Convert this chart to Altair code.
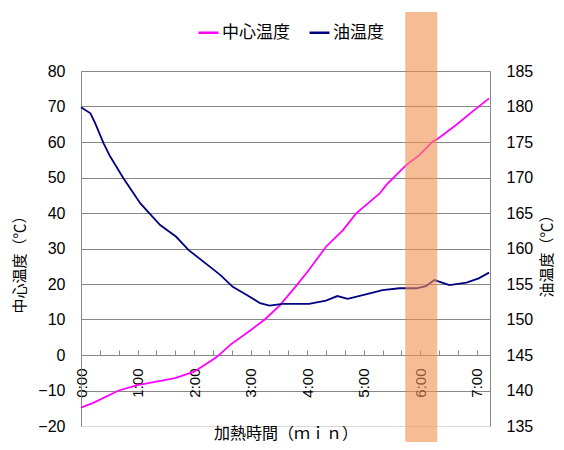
import altair as alt
import pandas as pd

# 中心温度 (left axis, °C) — time in seconds
center_t = [0, 13, 40, 60, 100, 120, 134, 144, 159, 180, 195, 211, 229, 242, 260, 278, 292, 317, 324, 345, 359, 373, 379, 398, 415, 433]
center_v = [-14.8, -13.5, -10.0, -8.5, -6.5, -4.7, -2.3, -0.6, 3.0, 7.0, 10.0, 14.0, 19.7, 24.0, 30.5, 35.2, 39.9, 45.5, 47.9, 53.5, 56.3, 60.1, 61.0, 64.8, 68.5, 72.3]

# 油温度 (right axis, °C)
oil_t = [0, 10, 15, 24, 31, 45, 63, 84, 101, 114, 139, 148, 161, 176, 190, 200, 214, 242, 260, 272, 283, 299, 320, 338, 356, 366, 375, 391, 409, 422, 433]
oil_v = [179.9, 179.05, 177.65, 174.8, 172.95, 169.9, 166.35, 163.3, 161.65, 159.8, 157.2, 156.25, 154.6, 153.45, 152.3, 151.95, 152.2, 152.2, 152.65, 153.3, 152.9, 153.45, 154.15, 154.4, 154.4, 154.7, 155.55, 154.85, 155.2, 155.8, 156.6]

series_names = ["中心温度", "油温度"]
series_colors = ["#FF00FF", "#000080"]

band_start = [344]
band_end = [378]

x_domain = [0, 434]
minor_ticks = list(range(0, 421, 20))
major_ticks = list(range(0, 421, 60))
left_ticks = list(range(-20, 81, 10))
right_ticks = list(range(135, 186, 5))

FONT = "Liberation Sans, Noto Sans CJK JP"
CJK = "Noto Sans CJK JP"
GRAY = "#878787"

center_df = pd.DataFrame({"t": center_t, "v": center_v, "series": series_names[0]})
oil_df = pd.DataFrame({"t": oil_t, "v": oil_v, "series": series_names[1]})
band_df = pd.DataFrame({"start": band_start, "end": band_end})

xscale = alt.Scale(domain=x_domain, nice=False, zero=False)
color = alt.Color(
    "series:N",
    scale=alt.Scale(domain=series_names, range=series_colors),
    legend=alt.Legend(
        orient="none", legendX=116, legendY=-50, direction="horizontal", title=None,
        symbolType="stroke", symbolSize=400, symbolStrokeWidth=2.5,
        labelFontSize=17, labelFont=CJK, labelColor="black",
        columnPadding=14, labelOffset=2,
    ),
)

center = alt.Chart(center_df).mark_line(strokeWidth=1.8).encode(
    x=alt.X("t:Q", scale=xscale, axis=alt.Axis(
        orient="top", offset=-284, values=minor_ticks, labels=False,
        ticks=True, tickSize=5, tickColor=GRAY, domain=True, domainColor=GRAY,
        grid=False, title=None)),
    y=alt.Y("v:Q", scale=alt.Scale(domain=[-20, 80], nice=False), axis=alt.Axis(
        orient="left", values=left_ticks, grid=True,
        gridColor={"condition": {"test": "datum.value === -20", "value": "#d9d9d9"}, "value": GRAY},
        domain=True, domainColor=GRAY, ticks=False, tickSize=0, labelPadding=16,
        labelFontSize=16, labelFont=FONT, labelColor="black",
        title="中心温度（℃）", titleFontSize=15, titleFont=CJK, titleFontWeight="normal",
        titleAngle=270, titleX=-62, titleY=242, titleAlign="left", titleBaseline="middle",
        titleColor="black")),
    color=color,
)

oil = alt.Chart(oil_df).mark_line(strokeWidth=1.8).encode(
    x=alt.X("t:Q", scale=xscale, axis=alt.Axis(
        orient="bottom", offset=-71, values=major_ticks,
        labelExpr="floor(datum.value / 60) + ':00'",
        labelAngle=270, labelAlign="right", labelBaseline="middle", labelPadding=13,
        labelFlush=False, labelOverlap=False, labelFontSize=15, labelFont=FONT, labelColor="black",
        ticks=False, tickSize=0, domain=False, grid=False,
        title="加熱時間（ｍｉｎ）", titleFontSize=16, titleFont=CJK, titleFontWeight="normal",
        titleX=204.5, titleY=78, titleBaseline="middle", titleColor="black")),
    y=alt.Y("v:Q", scale=alt.Scale(domain=[135, 185], nice=False), axis=alt.Axis(
        orient="right", values=right_ticks, grid=False, domain=True, domainColor=GRAY,
        ticks=False, tickSize=0, labelPadding=16, labelFontSize=16, labelFont=FONT,
        labelColor="black",
        title="油温度（℃）", titleFontSize=15, titleFont=CJK, titleFontWeight="normal",
        titleAngle=270, titleX=56, titleY=226, titleAlign="left", titleBaseline="middle",
        titleColor="black")),
    color=color,
)

band = alt.Chart(band_df).mark_rect(color="#F09050", opacity=0.6).encode(
    x=alt.X("start:Q", scale=xscale, axis=None),
    x2="end:Q",
    y=alt.value(-59),
    y2=alt.value(380),
)

chart = alt.layer(center, oil, band).resolve_scale(y="independent").properties(
    width=409, height=355,
    padding={"left": 73, "top": 63, "right": 66, "bottom": 16},
    autosize=alt.AutoSizeParams(type="none"),
).configure_view(stroke=None).configure(font=FONT)

chart.save("out.html", embed_options={"renderer": "svg", "actions": False})
